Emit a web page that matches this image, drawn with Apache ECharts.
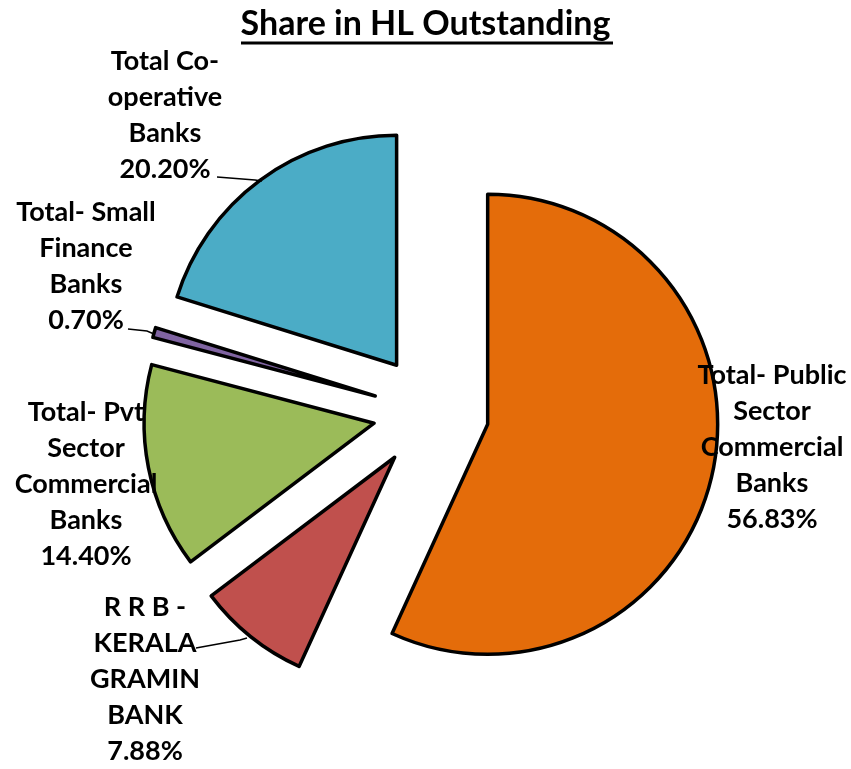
<!DOCTYPE html>
<html>
<head>
<meta charset="utf-8">
<script src="https://cdn.jsdelivr.net/npm/echarts@6/dist/echarts.min.js"></script>
<style>
  html, body { margin: 0; padding: 0; background: #fff; }
  #main { width: 851px; height: 769px; }
</style>
</head>
<body>
<div id="main"></div>
<script>
// data, clockwise from 12 o'clock
var names = [
    'Total- Public\nSector\nCommercial\nBanks',
    'R R B -\nKERALA\nGRAMIN\nBANK',
    'Total- Pvt\nSector\nCommercial\nBanks',
    'Total- Small\nFinance\nBanks',
    'Total Co-\noperative\nBanks'
];
var shares = [56.83, 7.88, 14.40, 0.70, 20.20];
var colors = ['#E46C0A', '#C0504D', '#9BBB59', '#8064A2', '#4BACC6'];

// label placement (centre of the text block) and leader lines
var labelPos = [[772, 447], [145, 679], [86, 484], [86, 266], [165, 115]];
var linePts = [
    null,
    [[196, 648], [240, 640], [247, 638]],
    null,
    [[128, 329], [147, 331], [154, 334]],
    [[217, 177], [255, 180], [262, 181]]
];

var chart = echarts.init(document.getElementById('main'));

var sliceData = names.map(function (n, i) {
    return {
        name: n,
        value: shares[i],
        selected: true,
        itemStyle: { color: colors[i] }
    };
});

// same values again, only used to carry the labels (no offset)
var labelData = names.map(function (n, i) {
    return {
        name: n,
        value: shares[i],
        labelLine: { show: linePts[i] !== null }
    };
});

chart.setOption({
    animation: false,
    title: {
        text: 'Share in HL Outstanding',
        left: 'center',
        top: 2,
        textStyle: {
            fontFamily: 'Lato',
            fontWeight: 'bold',
            fontSize: 34,
            color: '#000'
        }
    },
    graphic: [{
        type: 'line',
        shape: { x1: 241, y1: 43, x2: 613, y2: 43 },
        style: { stroke: '#000', lineWidth: 3 }
    }],
    series: [{
        type: 'pie',
        center: [431, 412],
        radius: 230,
        startAngle: 90,
        clockwise: true,
        selectedMode: 'multiple',
        selectedOffset: 58,
        emphasis: { disabled: true },
        label: { show: false },
        labelLine: { show: false },
        itemStyle: {
            borderColor: '#000',
            borderWidth: 3.5
        },
        data: sliceData
    }, {
        type: 'pie',
        center: [431, 412],
        radius: 230,
        startAngle: 90,
        clockwise: true,
        silent: true,
        z: 3,
        avoidLabelOverlap: false,
        emphasis: { disabled: true },
        itemStyle: { color: 'rgba(0,0,0,0)', borderWidth: 0 },
        label: {
            show: true,
            fontFamily: 'Lato',
            fontWeight: 'bold',
            fontSize: 27,
            lineHeight: 36,
            color: '#000',
            align: 'center',
            formatter: function (p) {
                return p.name + '\n' + p.value.toFixed(2) + '%';
            }
        },
        labelLine: {
            show: true,
            lineStyle: { color: '#000', width: 1.5 }
        },
        labelLayout: function (params) {
            var i = params.dataIndex;
            var out = {
                x: labelPos[i][0],
                y: labelPos[i][1],
                align: 'center',
                verticalAlign: 'middle'
            };
            if (linePts[i]) out.labelLinePoints = linePts[i];
            return out;
        },
        data: labelData
    }]
});
</script>
</body>
</html>
